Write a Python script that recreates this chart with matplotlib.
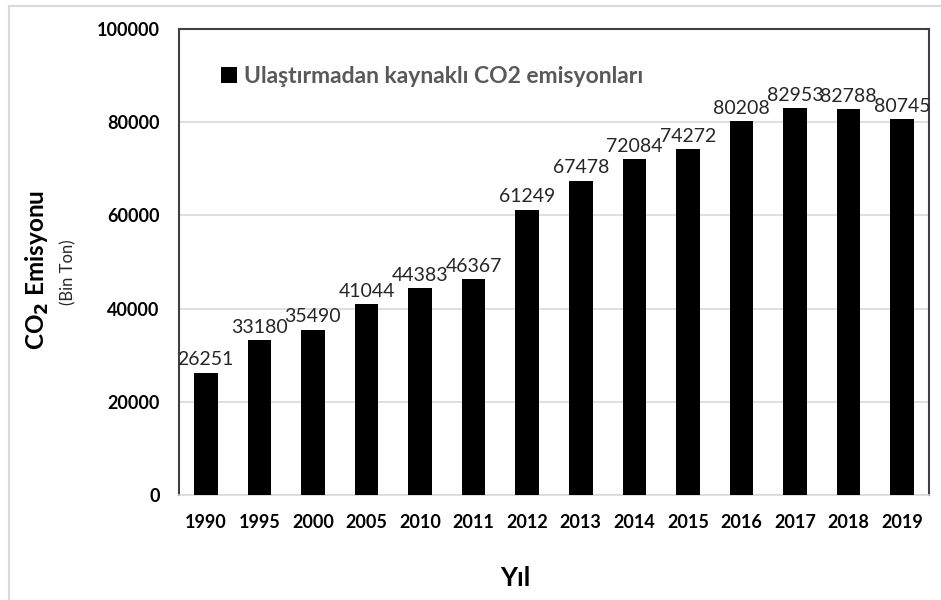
import matplotlib.pyplot as plt
from matplotlib.lines import Line2D

years = ['1990', '1995', '2000', '2005', '2010', '2011', '2012',
         '2013', '2014', '2015', '2016', '2017', '2018', '2019']
emissions = [26251, 33180, 35490, 41044, 44383, 46367, 61249,
             67478, 72084, 74272, 80208, 82953, 82788, 80745]
yticks = [0, 20000, 40000, 60000, 80000, 100000]

plt.rcParams['font.family'] = ['Lato', 'DejaVu Sans']

fig = plt.figure(figsize=(9.41, 6), dpi=100)
W, H = 941, 600
ax = fig.add_axes([179 / W, 1 - 495 / H, 750 / W, 466 / H])

# light grey outer frame (only left and top visible)
fig.add_artist(Line2D([9 / W, 9 / W], [0, 1 - 6 / H], color='#d9d9d9', lw=1.5))
fig.add_artist(Line2D([9 / W, 1], [1 - 6 / H, 1 - 6 / H], color='#d9d9d9', lw=1.5))

x = range(len(years))
bars = ax.bar(x, emissions, width=0.44, color='black',
              label='Ulaştırmadan kaynaklı CO2 emisyonları', zorder=3)

for i, v in enumerate(emissions):
    ax.text(i, v + 900, str(v), ha='center', va='bottom',
            fontsize=14, color='#262626', zorder=4)

ax.set_xlim(-0.5, len(years) - 0.5)
ax.set_ylim(0, 100000)
ax.set_xticks(list(x))
ax.set_xticklabels(years, fontsize=13, fontweight='bold')
ax.set_yticks(yticks)
ax.set_yticklabels([str(t) for t in yticks], fontsize=13, fontweight='bold')
ax.tick_params(axis='both', length=0)
ax.tick_params(axis='x', pad=14)
ax.tick_params(axis='y', pad=14)
ax.grid(axis='y', color='#d9d9d9', lw=1.2, zorder=0)

for s in ['left', 'top', 'right']:
    ax.spines[s].set_color('#404040')
    ax.spines[s].set_linewidth(1.5)
ax.spines['bottom'].set_color('#d9d9d9')
ax.spines['bottom'].set_linewidth(1.2)

leg = ax.legend(loc='upper left', bbox_to_anchor=(0.028, 0.965), frameon=False,
                handlelength=0.7, handleheight=0.7, handletextpad=0.3,
                prop={'size': 16.5, 'weight': 'bold'}, labelcolor='#595959')

fig.text(515 / W, 1 - 578 / H, 'Yıl', ha='center', va='center',
         fontsize=19, fontweight='bold')
fig.text(37 / W, 1 - 270 / H, 'CO$_\\mathbf{2}$ Emisyonu', ha='center', va='center',
         rotation=90, fontsize=17.5, fontweight='bold')
fig.text(68 / W, 1 - 272 / H, '(Bin Ton)', ha='center', va='center',
         rotation=90, fontsize=12, color='#262626')

fig.savefig('out.png', dpi=100)
